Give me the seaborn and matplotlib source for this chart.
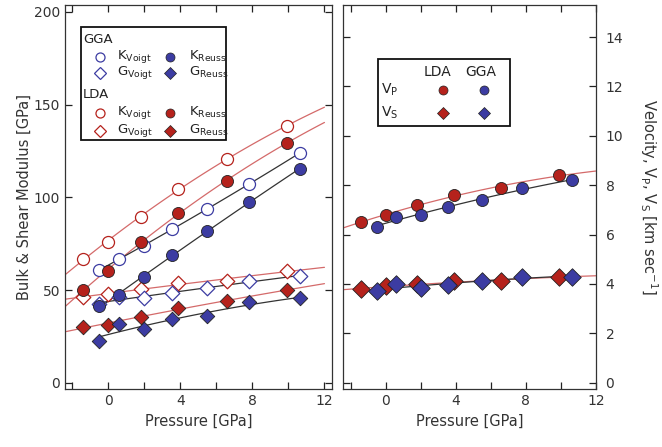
import numpy as np
import matplotlib
matplotlib.use("Agg")
import matplotlib.pyplot as plt
from matplotlib.ticker import FixedLocator
from matplotlib.patches import Rectangle
import seaborn as sns

sns.set_theme(style="ticks")
plt.rcParams['font.family'] = ['DejaVu Sans']

# pressures [GPa]
p_lda = [-1.4, 0.0, 1.8, 3.9, 6.6, 9.9]
p_gga = [-0.5, 0.6, 2.0, 3.55, 5.5, 7.8, 10.65]

# moduli [GPa]
kv_lda = [66.8, 76.0, 89.5, 104.6, 120.8, 138.5]
kr_lda = [50.1, 60.4, 76.0, 91.6, 108.9, 129.4]
gv_lda = [46.3, 48.0, 50.7, 53.9, 55.0, 60.4]
gr_lda = [30.2, 31.3, 35.6, 40.4, 44.2, 50.1]
kv_gga = [60.9, 66.8, 73.9, 83.0, 93.8, 107.3, 124.0]
kr_gga = [41.5, 47.4, 57.1, 69.0, 81.9, 97.6, 115.4]
gv_gga = [42.6, 46.3, 45.8, 48.5, 51.2, 55.0, 57.7]
gr_gga = [22.6, 31.8, 29.1, 34.5, 36.1, 43.7, 45.8]

# velocities [km/s]
vp_lda = [6.5, 6.8, 7.2, 7.6, 7.9, 8.4]
vs_lda = [3.8, 3.9, 4.0, 4.1, 4.1, 4.3]
vp_gga = [6.3, 6.7, 6.8, 7.1, 7.4, 7.9, 8.2]
vs_gga = [3.7, 4.0, 3.85, 3.97, 4.1, 4.3, 4.3]

RED = '#b5221c'
BLUE = '#3c3ca2'
RED_LINE = '#d46a6a'
GGA_LINE = '#333333'

fig = plt.figure(figsize=(6.62, 4.47), dpi=100)
ax1 = fig.add_axes([0.098, 0.130, 0.403, 0.859])
ax2 = fig.add_axes([0.518, 0.130, 0.382, 0.859])


def fit_line(ax, x, y, deg, x0, x1, color):
    c = np.polyfit(x, y, deg)
    xs = np.linspace(x0, x1, 50)
    sns.lineplot(x=xs, y=np.polyval(c, xs), color=color, lw=0.9, ax=ax)


def points(ax, x, y, marker, color, filled, size=75):
    if filled:
        sns.scatterplot(x=x, y=y, marker=marker, s=size, color=color,
                        facecolor=color, edgecolor='#222222', linewidth=0.6,
                        ax=ax, zorder=3)
    else:
        sns.scatterplot(x=x, y=y, marker=marker, s=size, color=color,
                        facecolor='white', edgecolor=color, linewidth=0.9,
                        ax=ax, zorder=3)


# ---- left panel: moduli
for ys in (kv_lda, kr_lda, gv_lda, gr_lda):
    fit_line(ax1, p_lda, ys, 2, -2.4, 12, RED_LINE)
for ys in (kv_gga, kr_gga, gv_gga, gr_gga):
    fit_line(ax1, p_gga, ys, 2, p_gga[0], p_gga[-1], GGA_LINE)

points(ax1, p_lda, kv_lda, 'o', RED, False)
points(ax1, p_gga, kv_gga, 'o', BLUE, False)
points(ax1, p_lda, gv_lda, 'D', RED, False, 55)
points(ax1, p_gga, gv_gga, 'D', BLUE, False, 55)
points(ax1, p_lda, kr_lda, 'o', RED, True)
points(ax1, p_gga, kr_gga, 'o', BLUE, True)
points(ax1, p_lda, gr_lda, 'D', RED, True, 55)
points(ax1, p_gga, gr_gga, 'D', BLUE, True, 55)

ax1.set_xlim(-2.4, 12.4)
ax1.set_ylim(-3.2, 203.8)
ax1.yaxis.set_major_locator(FixedLocator([0, 50, 100, 150, 200]))
ax1.set_xlabel('Pressure [GPa]', fontsize=10.5, color='#333333')
ax1.set_ylabel('Bulk & Shear Modulus [GPa]', fontsize=10.5, color='#333333',
               labelpad=1)

# ---- right panel: velocities
fit_line(ax2, p_lda, vp_lda, 2, -2.4, 12, RED_LINE)
fit_line(ax2, p_gga, vp_gga, 2, p_gga[0], p_gga[-1], GGA_LINE)
fit_line(ax2, p_lda, vs_lda, 2, -2.4, 12, RED_LINE)
fit_line(ax2, p_gga, vs_gga, 2, p_gga[0], p_gga[-1], GGA_LINE)

points(ax2, p_lda, vp_lda, 'o', RED, True)
points(ax2, p_gga, vp_gga, 'o', BLUE, True)
points(ax2, p_lda, vs_lda, 'D', RED, True, 80)
points(ax2, p_gga, vs_gga, 'D', BLUE, True, 80)

ax2.set_xlim(-2.45, 12.0)
ax2.set_ylim(-0.25, 15.3)
ax2.yaxis.set_major_locator(FixedLocator([0, 2, 4, 6, 8, 10, 12, 14]))
ax2.yaxis.tick_right()
ax2.yaxis.set_label_position('right')
ax2.set_xlabel('Pressure [GPa]', fontsize=10.5, color='#333333')
ax2.set_ylabel(r'Velocity, V$_{\rm P}$, V$_{\rm S}$ [km sec$^{-1}$]',
               fontsize=10.5, color='#333333', rotation=-90, labelpad=26)

for ax in (ax1, ax2):
    ax.xaxis.set_major_locator(FixedLocator([0, 4, 8, 12]))
    ax.xaxis.set_minor_locator(FixedLocator([-2, 2, 6, 10]))
    ax.tick_params(which='both', direction='in', top=True, bottom=True,
                   left=True, right=True, length=5, width=0.9,
                   labelsize=10, labelcolor='#333333', color='#222222')
    for s in ax.spines.values():
        s.set_linewidth(0.9)
        s.set_color('#333333')
ax2.tick_params(axis='y', labelleft=False, labelright=True, pad=7)

# ---- legend, left panel
ax1.add_patch(Rectangle((0.06, 0.648), 0.543, 0.295, transform=ax1.transAxes,
                        fill=True, facecolor='white', edgecolor='#111111',
                        lw=1.3, zorder=5))
tkw = dict(transform=ax1.transAxes, fontsize=9.5, va='center', zorder=6,
           color='#222222')
leg_rows = [
    (0.865, 'o', 'K', BLUE), (0.823, 'D', 'G', BLUE),
    (0.719, 'o', 'K', RED), (0.672, 'D', 'G', RED),
]
ax1.text(0.067, 0.911, 'GGA', **tkw)
ax1.text(0.067, 0.766, 'LDA', **tkw)
for yy, mk, sym, col in leg_rows:
    ms = 6.5 if mk == 'o' else 6
    ax1.plot([0.131], [yy], marker=mk, ms=ms, mfc='white', mec=col, mew=0.9,
             ls='none', transform=ax1.transAxes, zorder=6)
    ax1.plot([0.393], [yy], marker=mk, ms=ms, mfc=col, mec='#222222', mew=0.5,
             ls='none', transform=ax1.transAxes, zorder=6)
    ax1.text(0.195, yy, sym + r'$_{\rm Voigt}$', **tkw)
    ax1.text(0.465, yy, sym + r'$_{\rm Reuss}$', **tkw)

# ---- legend, right panel
ax2.add_patch(Rectangle((0.138, 0.685), 0.522, 0.174, transform=ax2.transAxes,
                        fill=True, facecolor='white', edgecolor='#111111',
                        lw=1.3, zorder=5))
tkw2 = dict(transform=ax2.transAxes, fontsize=10, va='center', zorder=6,
            color='#222222')
ax2.text(0.375, 0.826, 'LDA', ha='center', **tkw2)
ax2.text(0.545, 0.826, 'GGA', ha='center', **tkw2)
ax2.text(0.150, 0.779, r'V$_{\rm P}$', **tkw2)
ax2.text(0.150, 0.719, r'V$_{\rm S}$', **tkw2)
for yy, mk in ((0.779, 'o'), (0.719, 'D')):
    for xx, col in ((0.395, RED), (0.557, BLUE)):
        ax2.plot([xx], [yy], marker=mk, ms=6.5 if mk == 'o' else 6,
                 mfc=col, mec='#222222', mew=0.5, ls='none',
                 transform=ax2.transAxes, zorder=6)

fig.savefig('out.png', dpi=100)
